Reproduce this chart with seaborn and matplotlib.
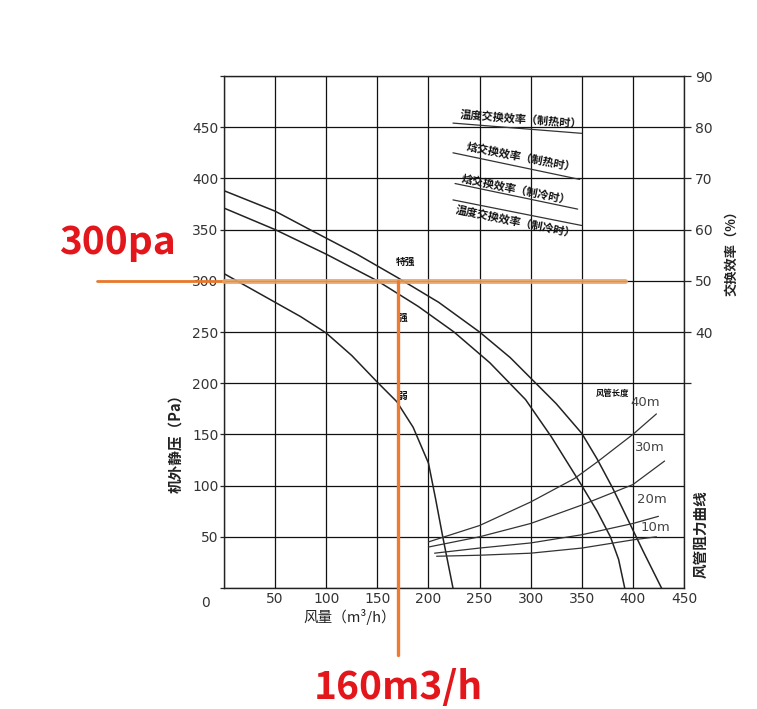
import matplotlib
matplotlib.use("Agg")
import matplotlib.pyplot as plt
import seaborn as sns
import pandas as pd

# ---------------- data ----------------
# Fan curves: airflow (m3/h) vs external static pressure (Pa)
flow_extra_high = [0, 50, 84, 130, 170, 210, 250, 280, 300, 325, 350, 365, 380, 395, 410, 428]
pa_extra_high = [388, 368, 350, 326, 303, 279, 250, 225, 205, 180, 151, 126, 98, 67, 36, 0]
flow_high = [0, 50, 100, 150, 190, 225, 260, 295, 320, 350, 365, 378, 386, 392]
pa_high = [371, 350, 326, 300, 275, 250, 220, 184, 148, 100, 75, 50, 28, 0]
flow_low = [0, 25, 50, 75, 100, 125, 150, 169, 185, 200, 207, 214, 224]
pa_low = [307, 293, 279, 265, 249, 227, 201, 182, 157, 122, 87, 50, 0]
fan_labels = ["特强", "强", "弱"]

# Duct resistance curves
duct40_flow = [200, 250, 300, 343, 365, 400, 423]
duct40_pa = [45, 61, 84, 107, 123, 150, 170]
duct30_flow = [200, 250, 300, 350, 400, 431]
duct30_pa = [40, 50, 63, 81, 101, 124]
duct20_flow = [206, 250, 300, 350, 400, 425]
duct20_pa = [34, 39, 44, 52, 63, 70]
duct10_flow = [208, 250, 300, 350, 400, 423]
duct10_pa = [31, 32, 34, 39, 47, 50]
duct_labels = ["40m", "30m", "20m", "10m"]

# Exchange efficiency lines (airflow, %)
eff_temp_heat_flow = [224, 350]
eff_temp_heat_pct = [80.8, 78.8]
eff_enth_heat_flow = [224, 348]
eff_enth_heat_pct = [75.0, 69.8]
eff_enth_cool_flow = [226, 346]
eff_enth_cool_pct = [69.0, 64.0]
eff_temp_cool_flow = [224, 350]
eff_temp_cool_pct = [65.8, 60.8]
eff_labels = ["温度交换效率（制热时）", "焓交换效率（制热时）",
              "焓交换效率（制冷时）", "温度交换效率（制冷时）"]

# Axis ticks
x_ticks = [0, 50, 100, 150, 200, 250, 300, 350, 400, 450]
y_ticks = [0, 50, 100, 150, 200, 250, 300, 350, 400, 450, 500]
right_ticks = [30, 40, 50, 60, 70, 80, 90]

# Operating point annotation
op_pa = 300
op_flow = 170
op_pa_text = "300pa"
op_flow_text = "160m3/h"

# ---------------- drawing ----------------
sns.set_style("white")
CJK = ["Noto Sans CJK SC", "DejaVu Sans"]
plt.rcParams["font.family"] = ["DejaVu Sans"]

fig = plt.figure(figsize=(7.57, 7.09), dpi=100)
ax = fig.add_axes([224 / 757, 1 - 588 / 709, 460 / 757, 512 / 709])
ax.set_xlim(0, 450)
ax.set_ylim(0, 500)

ax.set_xticks(x_ticks)
ax.set_yticks(y_ticks)
ax.set_xticklabels([""] + [str(v) for v in x_ticks[1:]])
ax.set_yticklabels([""] + [str(v) for v in y_ticks[1:-1]] + [""])
ax.grid(True, color="#111111", lw=0.9)
ax.set_axisbelow(True)
for s in ax.spines.values():
    s.set_color("#222222")
    s.set_linewidth(1.0)
ax.tick_params(axis="x", length=0, pad=3, labelsize=10, labelcolor="#333333")
ax.tick_params(axis="y", length=3, width=0.9, pad=1, labelsize=10,
               labelcolor="#333333", left=True, direction="out")
ax.text(-0.041, -0.016, "0", transform=ax.transAxes, ha="center", va="top",
        fontsize=10, color="#333333")

curve_kw = dict(color="#222222", lw=1.1, sort=False, estimator=None, legend=False)
for fx, fy in [(flow_extra_high, pa_extra_high), (flow_high, pa_high), (flow_low, pa_low)]:
    sns.lineplot(data=pd.DataFrame({"flow": fx, "pa": fy}), x="flow", y="pa", ax=ax, **curve_kw)

duct_kw = dict(color="#333333", lw=0.9, sort=False, estimator=None, legend=False)
for fx, fy in [(duct40_flow, duct40_pa), (duct30_flow, duct30_pa),
               (duct20_flow, duct20_pa), (duct10_flow, duct10_pa)]:
    sns.lineplot(data=pd.DataFrame({"flow": fx, "pa": fy}), x="flow", y="pa", ax=ax, **duct_kw)

# duct labels
for lab, (lx, ly) in zip(duct_labels, [(412, 181), (417, 137), (419, 86), (422, 59)]):
    ax.text(lx, ly, lab, fontsize=9.5, color="#444444", ha="center", va="center")
ax.text(380, 190, "风管长度", family=CJK, fontsize=6, fontweight="bold",
        ha="center", va="center", color="#111111")

# fan labels
for lab, (lx, ly) in zip(fan_labels, [(178, 318), (175, 264), (175, 188)]):
    ax.text(lx, ly, lab, family=CJK, fontsize=7, fontweight="bold",
            ha="center", va="center", color="#111111", zorder=6)

# right axis: efficiency
ax2 = ax.twinx()
ax2.set_ylim(-10, 90)
ax2.set_yticks(right_ticks)
ax2.set_yticklabels([""] + [str(v) for v in right_ticks[1:]])
ax2.tick_params(axis="y", length=5, width=0.9, pad=3, labelsize=10, labelcolor="#333333")
for s in ax2.spines.values():
    s.set_visible(False)
ax2.grid(False)

eff_kw = dict(color="#333333", lw=0.9, sort=False, estimator=None, legend=False)
for fx, fy in [(eff_temp_heat_flow, eff_temp_heat_pct), (eff_enth_heat_flow, eff_enth_heat_pct),
               (eff_enth_cool_flow, eff_enth_cool_pct), (eff_temp_cool_flow, eff_temp_cool_pct)]:
    sns.lineplot(data=pd.DataFrame({"flow": fx, "pct": fy}), x="flow", y="pct", ax=ax2, **eff_kw)
ax2.set_xlabel("")
ax2.set_ylabel("")
ax.set_xlabel("")
ax.set_ylabel("")

for lab, (lx, ly), rot in zip(eff_labels,
                              [(291, 81.6), (291, 74.2), (286, 67.8), (285, 61.6)],
                              [-4.5, -11, -11.5, -11.5]):
    ax2.text(lx, ly, lab, family=CJK, fontsize=8, fontweight="bold", rotation=rot,
             rotation_mode="anchor", ha="center", va="center", color="#111111")

# axis titles
fig.text(175 / 757, 1 - 440 / 709, "机外静压（Pa）", family=CJK, fontsize=10.5,
         fontweight="bold", rotation=90, ha="center", va="center", color="#222222")
fig.text(731 / 757, 1 - 250 / 709, "交换效率（%）", family=CJK, fontsize=9.5,
         fontweight="bold", rotation=90, ha="center", va="center", color="#222222")
fig.text(350 / 757, 1 - 617 / 709, "风量（m³/h）", family=CJK, fontsize=10.5,
         ha="center", va="center", color="#222222")
fig.text(700 / 757, 1 - 534 / 709, "风管阻力曲线", family=CJK, fontsize=10.5,
         fontweight="bold", rotation=90, ha="center", va="center", color="#222222")

# operating point (orange guide lines)
ax.plot([-124, 0], [op_pa, op_pa], color="#e8782a", lw=2.0, clip_on=False, zorder=8)
ax.plot([0, 392], [op_pa, op_pa], color="#e9a263", lw=3.5, alpha=0.9, clip_on=False, zorder=8)
ax.plot([op_flow, op_flow], [op_pa, -65], color="#ee7a30", lw=2.4, clip_on=False, zorder=8)

fig.text(117 / 757, 1 - 243 / 709, op_pa_text, family=["Noto Sans CJK SC", "DejaVu Sans"],
         fontsize=28, fontweight="bold", color="#e3161b", ha="center", va="center")
fig.text(398 / 757, 1 - 688 / 709, op_flow_text, family=["Noto Sans CJK SC", "DejaVu Sans"],
         fontsize=28, fontweight="bold", color="#e3161b", ha="center", va="center")

fig.savefig("out.png", dpi=100)
